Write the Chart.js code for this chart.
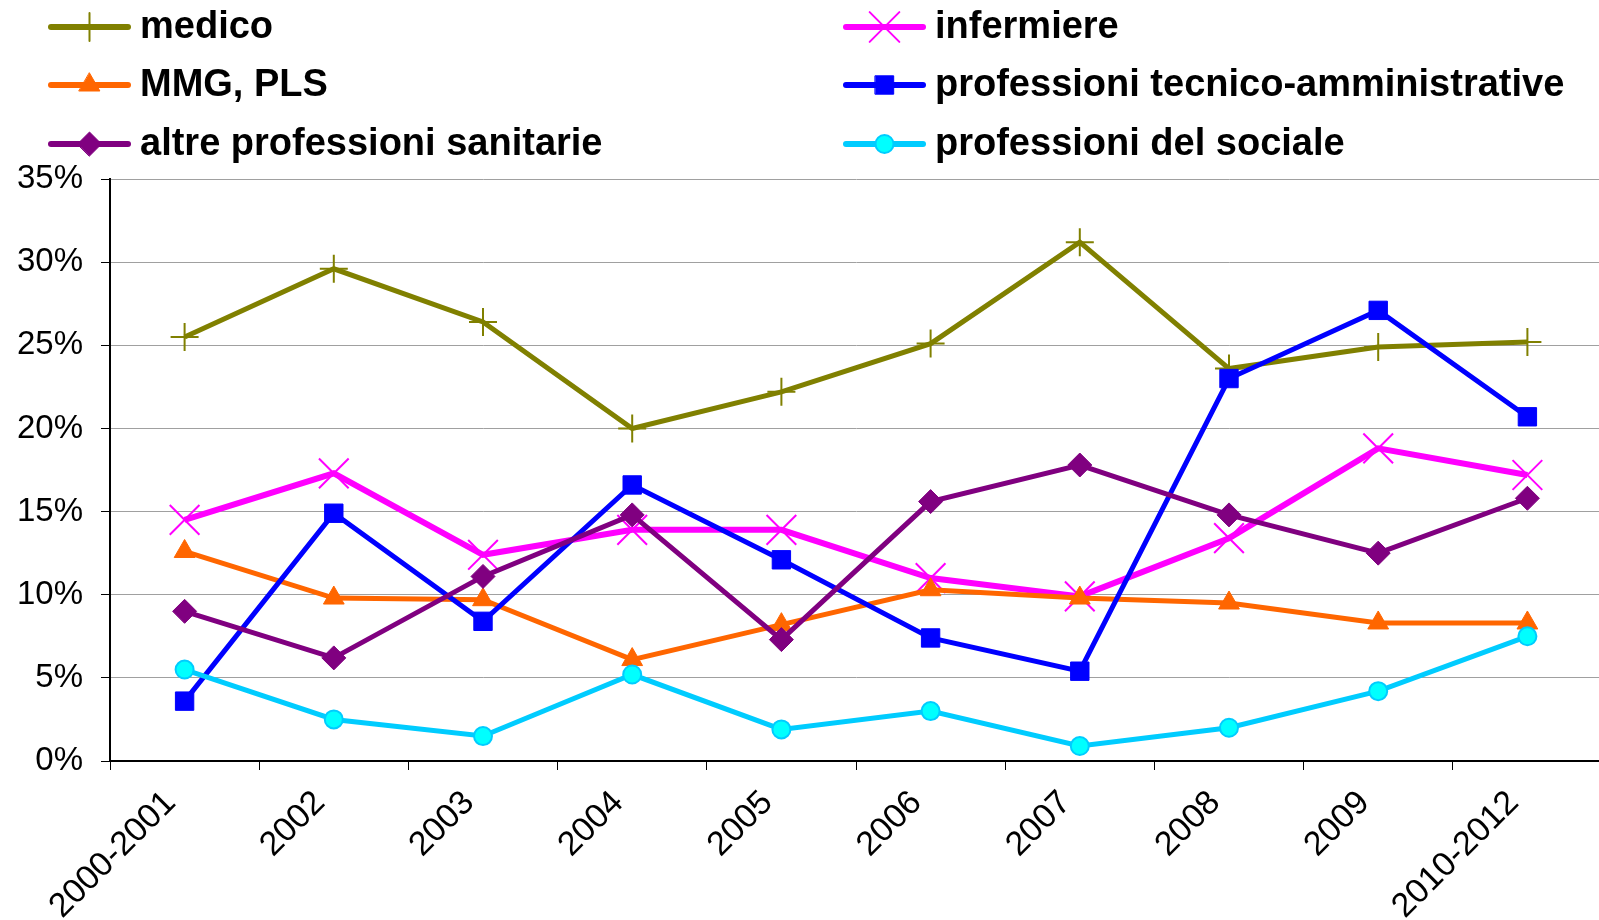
<!DOCTYPE html>
<html>
<head>
<meta charset="utf-8">
<script src="https://cdn.jsdelivr.net/npm/chart.js@4.4.1/dist/chart.umd.min.js"></script>
<style>
html, body { margin: 0; padding: 0; background: #fff; overflow: hidden; }
#wrap { width: 1603px; height: 920px; }
</style>
</head>
<body>
<div id="wrap"><canvas id="chart" width="1603" height="920"></canvas></div>
<script>
// =============================
// DATA
// =============================
const years = ["2000-2001", "2002", "2003", "2004", "2005", "2006", "2007", "2008", "2009", "2010-2012"];
const yTicks = [0, 5, 10, 15, 20, 25, 30, 35];

const medico      = [25.5, 29.6, 26.4, 20.0, 22.2, 25.1, 31.2, 23.6, 24.9, 25.2];
const infermiere  = [14.5, 17.3, 12.4, 13.9, 13.9, 11.0, 9.9, 13.4, 18.8, 17.2];
const mmgPls      = [12.6, 9.8, 9.7, 6.1, 8.2, 10.3, 9.8, 9.5, 8.3, 8.3];
const tecnicoAmm  = [3.6, 14.9, 8.4, 16.6, 12.1, 7.4, 5.4, 23.0, 27.1, 20.7];
const altreSanit  = [9.0, 6.2, 11.1, 14.8, 7.3, 15.6, 17.8, 14.8, 12.5, 15.8];
const sociale     = [5.5, 2.5, 1.5, 5.2, 1.9, 3.0, 0.9, 2.0, 4.2, 7.5];

// =============================
// DATASETS
// =============================
function makeSeries(label, data, color, style, radius, opts) {
    return Object.assign({
        label,
        data,
        borderColor: color,
        borderWidth: 5,
        pointStyle: style,
        pointRadius: radius,
        pointHoverRadius: radius,
        pointBackgroundColor: color,
        pointBorderColor: color,
        pointBorderWidth: 1,
        tension: 0
    }, opts || {});
}

const datasets = [
    makeSeries("medico", medico, "#808000", "cross", 14, { pointBorderWidth: 2 }),
    makeSeries("infermiere", infermiere, "#FF00FF", "crossRot", 21, { pointBorderWidth: 2, borderWidth: 6 }),
    makeSeries("MMG, PLS", mmgPls, "#FF6600", "triangle", 12),
    makeSeries("professioni tecnico-amministrative", tecnicoAmm, "#0000FF", "rect", 13),
    makeSeries("altre professioni sanitarie", altreSanit, "#800080", "rectRot", 12),
    makeSeries("professioni del sociale", sociale, "#00CCFF", "circle", 9,
        { pointBackgroundColor: "#00FFFF", pointBorderColor: "#00CCFF", pointBorderWidth: 2 })
];
// later series on top, like the original
datasets.forEach((d, i) => { d.order = datasets.length - i; });

// =============================
// LEGEND (two columns, line + marker)
// =============================
const twoColLegend = {
    id: "twoColLegend",
    afterDraw(chart) {
        const ctx = chart.ctx;
        const rowsY = [27, 85, 144];
        ctx.save();
        chart.data.datasets.forEach((ds, i) => {
            const x0 = (i % 2) ? 846 : 51;
            const y = rowsY[Math.floor(i / 2)];
            ctx.strokeStyle = ds.borderColor;
            ctx.lineWidth = 6;
            ctx.lineCap = "round";
            ctx.beginPath();
            ctx.moveTo(x0, y);
            ctx.lineTo(x0 + 77, y);
            ctx.stroke();

            ctx.fillStyle = ds.pointBackgroundColor;
            ctx.strokeStyle = ds.pointBorderColor;
            ctx.lineWidth = ds.pointBorderWidth;
            Chart.helpers.drawPoint(ctx, {
                pointStyle: ds.pointStyle,
                radius: ds.pointRadius,
                borderWidth: ds.pointBorderWidth,
                rotation: 0
            }, x0 + 38.5, y);

            ctx.fillStyle = "#000";
            ctx.font = "bold 38px 'Liberation Sans', Arial, sans-serif";
            ctx.textAlign = "left";
            ctx.textBaseline = "middle";
            ctx.fillText(ds.label, x0 + 89, y + 1);
        });
        ctx.restore();
    }
};

// =============================
// CHART
// =============================
const fontFamily = "'Liberation Sans', Arial, sans-serif";

new Chart(document.getElementById("chart"), {
    type: "line",
    data: { labels: years, datasets },
    options: {
        responsive: false,
        animation: false,
        devicePixelRatio: 1,
        layout: { autoPadding: false, padding: { top: 179, right: 1, left: 0, bottom: 0 } },
        plugins: {
            legend: { display: false },
            tooltip: { enabled: false }
        },
        scales: {
            x: {
                offset: true,
                grid: {
                    offset: true,
                    drawOnChartArea: false,
                    drawTicks: true,
                    tickLength: 9,
                    color: "#000",
                    tickColor: "#000"
                },
                border: { color: "#000", width: 2 },
                ticks: {
                    color: "#000",
                    font: { family: fontFamily, size: 34 },
                    minRotation: 45,
                    maxRotation: 45,
                    autoSkip: false,
                    padding: 13,
                    labelOffset: -14
                },
                afterFit(scale) {
                    scale.height = 159;
                    scale.paddingRight = 0;
                }
            },
            y: {
                min: yTicks[0],
                max: yTicks[yTicks.length - 1],
                afterBuildTicks(scale) { scale.ticks = yTicks.map(v => ({ value: v })); },
                grid: {
                    color: "#A0A0A0",
                    lineWidth: 1,
                    tickLength: 9,
                    tickColor: "#000"
                },
                border: { color: "#000", width: 2 },
                ticks: {
                    color: "#000",
                    font: { family: fontFamily, size: 33 },
                    padding: 18,
                    callback: v => v + "%"
                },
                afterFit(scale) { scale.width = 110; }
            }
        }
    },
    plugins: [twoColLegend]
});
</script>
</body>
</html>
